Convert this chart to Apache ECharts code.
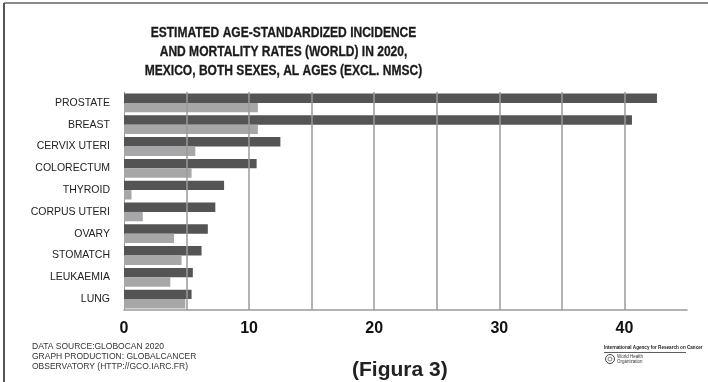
<!DOCTYPE html>
<html>
<head>
<meta charset="utf-8">
<script src="https://cdn.jsdelivr.net/npm/echarts@6/dist/echarts.min.js"></script>
<style>
  html, body { margin: 0; padding: 0; background: #fff; }
  #chart { width: 708px; height: 382px; }
</style>
</head>
<body>
<div id="chart"></div>
<script>
// Cancer sites, top to bottom
const sites = ['PROSTATE', 'BREAST', 'CERVIX UTERI', 'COLORECTUM', 'THYROID',
               'CORPUS UTERI', 'OVARY', 'STOMATCH', 'LEUKAEMIA', 'LUNG'];
// Age-standardized rates per 100 000
const incidence = [42.6, 40.6, 12.5, 10.6, 8.0, 7.3, 6.7, 6.2, 5.5, 5.4];
const mortality = [10.7, 10.7, 5.7, 5.4, 0.6, 1.5, 4.0, 4.6, 3.7, 4.9];
// Vertical reference lines and labelled ticks
const gridValues = [5, 10, 15, 20, 25, 30, 35, 40];
const tickLabels = [0, 10, 20, 30, 40];

const sans = '"Liberation Sans", Arial, sans-serif';
const titleLines = 'ESTIMATED AGE-STANDARDIZED INCIDENCE\nAND MORTALITY RATES (WORLD) IN 2020,\nMEXICO, BOTH SEXES, AL AGES (EXCL. NMSC)';

const chart = echarts.init(document.getElementById('chart'), null, { renderer: 'canvas' });

chart.setOption({
  backgroundColor: '#ffffff',
  animation: false,
  grid: { left: 124, right: 21, top: 92, bottom: 72 },
  xAxis: {
    type: 'value',
    min: 0,
    max: 45,
    interval: 5,
    axisLine: { show: true, lineStyle: { color: '#9a9a9a', width: 1.5 } },
    axisTick: { show: false },
    splitLine: { show: false },
    axisLabel: {
      margin: 11,
      fontFamily: sans,
      fontWeight: 'bold',
      fontSize: 16,
      color: '#111',
      formatter: v => (tickLabels.indexOf(v) >= 0 ? String(v) : '')
    }
  },
  yAxis: {
    type: 'category',
    data: sites,
    inverse: true,
    axisLine: { show: true, lineStyle: { color: '#9a9a9a', width: 1 } },
    axisTick: { show: false },
    axisLabel: {
      margin: 14,
      fontFamily: sans,
      fontSize: 10.5,
      color: '#222'
    }
  },
  series: [
    {
      name: 'Incidence',
      type: 'bar',
      data: incidence,
      barWidth: 9.4,
      barGap: '0%',
      itemStyle: { color: '#545454' },
      z: 3,
      markLine: {
        silent: true,
        symbol: 'none',
        label: { show: false },
        lineStyle: { color: '#9a9a9a', width: 1.5, type: 'solid' },
        data: gridValues.map(v => ({ xAxis: v }))
      }
    },
    {
      name: 'Mortality',
      type: 'bar',
      data: mortality,
      barWidth: 9.4,
      barGap: '0%',
      itemStyle: { color: '#a7a7a9' },
      z: 3
    }
  ],
  graphic: [
    // page frame
    { type: 'line', shape: { x1: 4, y1: 3, x2: 708, y2: 3 }, style: { stroke: '#8a8a8a', lineWidth: 2 } },
    { type: 'line', shape: { x1: 4, y1: 3, x2: 4, y2: 382 }, style: { stroke: '#555', lineWidth: 2 } },
    // condensed bold heading
    {
      type: 'text',
      x: 283.5, y: 23,
      scaleX: 0.83,
      style: {
        text: titleLines,
        font: 'bold 14.5px ' + sans,
        lineHeight: 19,
        align: 'center',
        verticalAlign: 'top',
        fill: '#1a1a1a',
        stroke: '#1a1a1a',
        lineWidth: 0.3
      }
    },
    // source note
    {
      type: 'text', left: 32, top: 342,
      style: {
        text: 'DATA SOURCE:GLOBOCAN 2020\nGRAPH PRODUCTION: GLOBALCANCER\nOBSERVATORY (HTTP://GCO.IARC.FR)',
        font: '8.5px ' + sans,
        lineHeight: 10,
        fill: '#333'
      }
    },
    {
      type: 'text', left: 352, top: 360,
      style: { text: '(Figura 3)', font: 'bold 21px ' + sans, fill: '#222' }
    },
    // agency mark
    {
      type: 'text', left: 604, top: 345,
      style: { text: 'International Agency for Research on Cancer', font: 'bold 4.6px ' + sans, fill: '#222' }
    },
    { type: 'line', shape: { x1: 604, y1: 352.5, x2: 686, y2: 352.5 }, style: { stroke: '#333', lineWidth: 0.8 } },
    { type: 'circle', shape: { cx: 610, cy: 359, r: 4.5 }, style: { fill: '#fff', stroke: '#444', lineWidth: 1 } },
    { type: 'circle', shape: { cx: 610, cy: 359, r: 2 }, style: { fill: 'none', stroke: '#666', lineWidth: 0.8 } },
    {
      type: 'text', left: 617, top: 354,
      style: { text: 'World Health\nOrganization', font: '4.5px ' + sans, lineHeight: 5, fill: '#333' }
    }
  ]
});
</script>
</body>
</html>
